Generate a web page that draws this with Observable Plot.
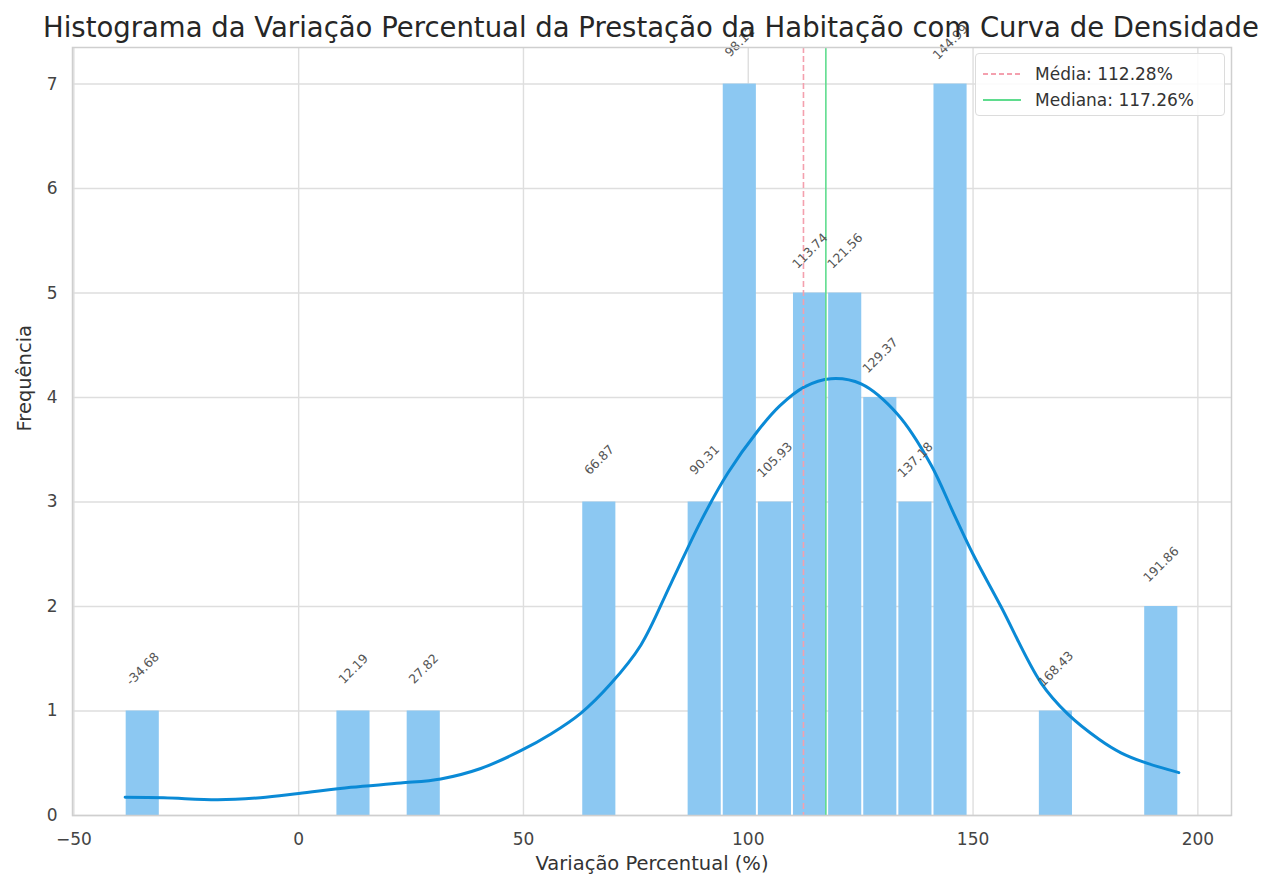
<!DOCTYPE html>
<html>
<head>
<meta charset="utf-8">
<script src="https://cdn.jsdelivr.net/npm/d3@7"></script>
<script src="https://cdn.jsdelivr.net/npm/@observablehq/plot@0.6"></script>
<style>
  body { margin: 0; background: #fff; font-family: "DejaVu Sans", sans-serif; }
  #wrap { position: relative; width: 1269px; height: 881px; overflow: hidden; }
  #title { position: absolute; left: 651px; top: 9px; transform: translateX(-50%); white-space: nowrap;
           font-size: 27.5px; color: #262626; line-height: 36px; z-index: 2; }
  #chart { position: absolute; left: 0; top: 47px; }
  #chart svg { overflow: visible; }
  #legend { position: absolute; left: 975px; top: 53px; width: 250px; height: 63px; box-sizing: border-box;
            border: 1.5px solid #dcdcdc; border-radius: 4px; background: rgba(255,255,255,0.85); z-index: 3;
            font-size: 17px; color: #333; }
  .row { position: absolute; left: 0; height: 24px; display: flex; align-items: center; }
  .row svg { margin-left: 7px; margin-right: 14px; }
</style>
</head>
<body>
<div id="wrap">
  <div id="title">Histograma da Variação Percentual da Prestação da Habitação com Curva de Densidade</div>
  <div id="chart"></div>
  <div id="legend">
    <div class="row" style="top:8px"><svg width="38" height="6"><line x1="0" y1="3" x2="38" y2="3" stroke="#f4a0ae" stroke-width="1.8" stroke-dasharray="5,3"/></svg>Média: 112.28%</div>
    <div class="row" style="top:34px"><svg width="38" height="6"><line x1="0" y1="3" x2="38" y2="3" stroke="#5fdc8e" stroke-width="1.8"/></svg>Mediana: 117.26%</div>
  </div>
</div>
<script>
// Histogram bins (centers), counts and their labels
const binWidth = 7.811;
const binCenters = [-34.68, 12.19, 27.82, 66.87, 90.31, 98.12, 105.93, 113.74, 121.56, 129.37, 137.18, 144.99, 168.43, 191.86];
const binCounts  = [1, 1, 1, 3, 3, 7, 3, 5, 5, 4, 3, 7, 1, 2];
const binLabels  = ["-34.68", "12.19", "27.82", "66.87", "90.31", "98.12", "105.93", "113.74", "121.56", "129.37", "137.18", "144.99", "168.43", "191.86"];

// Density curve (scaled to counts)
const kdeX = [-38.59, -30, -18, -8.5, 0, 11.6, 22.7, 31.6, 40.5, 49.4, 56.1, 62.8, 69.4, 76.1, 82.8, 89.5, 95.5, 102.1, 107, 112.4, 118.4, 125.1, 133.2, 140.6, 145.8, 150, 156.2, 165.1, 171.1, 178, 182.9, 188, 195.77];
const kdeY = [0.175, 0.17, 0.15, 0.17, 0.21, 0.27, 0.31, 0.35, 0.45, 0.62, 0.78, 0.98, 1.26, 1.63, 2.22, 2.82, 3.28, 3.68, 3.92, 4.1, 4.18, 4.13, 3.84, 3.36, 2.88, 2.5, 2.0, 1.27, 0.97, 0.73, 0.60, 0.51, 0.41];

const meanValue = 112.28;
const medianValue = 117.26;

const xTicks = [-50, 0, 50, 100, 150, 200];
const yTicks = [0, 1, 2, 3, 4, 5, 6, 7];

const bins = binCenters.map((c, i) => ({x1: c - binWidth / 2, x2: c + binWidth / 2, xc: c, count: binCounts[i], label: binLabels[i]}));
const kde = kdeX.map((x, i) => ({x, y: kdeY[i]}));

const lo = binCenters[0] - binWidth / 2, hi = binCenters[binCenters.length - 1] + binWidth / 2;
const pad = (hi - lo) * 0.05;

const plot = Plot.plot({
  width: 1269,
  height: 834,
  marginTop: 0,
  marginLeft: 72,
  marginRight: 38,
  marginBottom: 66,
  style: {fontFamily: "DejaVu Sans, sans-serif", background: "transparent", overflow: "visible"},
  x: {domain: [lo - pad, hi + pad]},
  y: {domain: [0, 7.35]},
  marks: [
    Plot.gridX(xTicks, {stroke: "#dedede", strokeOpacity: 1, strokeWidth: 1.4}),
    Plot.gridY(yTicks, {stroke: "#dedede", strokeOpacity: 1, strokeWidth: 1.4}),
    Plot.rectY(bins, {x1: "x1", x2: "x2", y: "count", fill: "#8cc8f2", insetLeft: 1, insetRight: 1}),
    Plot.line(kde, {x: "x", y: "y", stroke: "#0a8ad6", strokeWidth: 3, curve: "catmull-rom"}),
    Plot.ruleX([meanValue], {stroke: "#f4a0ae", strokeWidth: 1.6, strokeDasharray: "6,3"}),
    Plot.ruleX([medianValue], {stroke: "#5fdc8e", strokeWidth: 1.6}),
    Plot.text(bins, {x: "xc", y: "count", text: "label", rotate: -45, dy: -42, fontSize: 12.5, fill: "#555"}),
    Plot.frame({stroke: "#cfcfcf", strokeWidth: 1.5}),
    Plot.axisX(xTicks, {tickSize: 0, tickPadding: 17, fontSize: 17, fill: "#444", label: null, tickFormat: d => d < 0 ? "\u2212" + Math.abs(d) : String(d)}),
    Plot.axisY(yTicks, {tickSize: 0, tickPadding: 15, fontSize: 17, fill: "#444", label: null, tickFormat: d => String(d)}),
    Plot.text(["Variação Percentual (%)"], {frameAnchor: "bottom", dy: 54, fontSize: 19.5, fill: "#333"}),
    Plot.text(["Frequência"], {frameAnchor: "left", rotate: -90, dx: -48, fontSize: 19.5, fill: "#333"})
  ]
});
document.getElementById("chart").appendChild(plot);
</script>
</body>
</html>
